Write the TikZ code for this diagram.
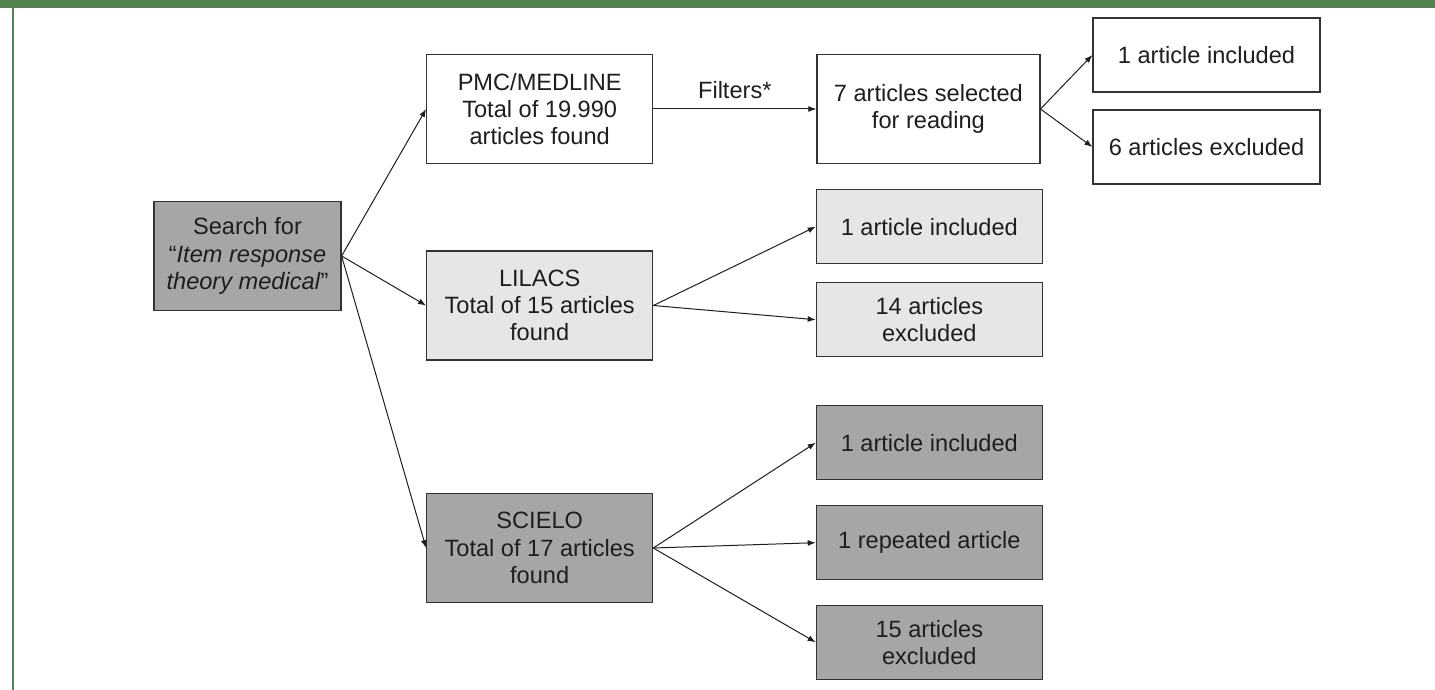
\documentclass[tikz,border=0pt]{standalone}
\usepackage{fontspec}
\setmainfont{Liberation Sans}
\usetikzlibrary{arrows.meta,positioning}
\definecolor{band}{HTML}{538150}
\definecolor{shade}{HTML}{A6A6A6}
\definecolor{pale}{HTML}{E6E6E6}
\definecolor{edge}{HTML}{333333}
\definecolor{ink}{HTML}{1E1E1E}

\begin{document}
\begin{tikzpicture}[x=0.5pt,y=-0.5pt,
 box/.style={draw=edge,line width=0.6pt,fill=white,align=center,inner sep=0pt,
 text=ink,font=\fontsize{11.8}{13.6}\selectfont},
 big/.style={box,minimum width=113pt,minimum height=54.5pt},
 small/.style={box,minimum width=113pt,minimum height=37pt},
 arr/.style={-{Latex[length=4pt,width=3pt]},line width=0.5pt,draw=ink}]
 \useasboundingbox (0,0) rectangle (1435,690);
 % frame of the page
 \fill[band] (0,0) rectangle (1435,8);
 \fill[band] (11.5,8) rectangle (14,690);
 % search and databases
 \node[big,fill=shade,minimum width=93.5pt] (search) at (247.5,256)
 {Search for\\“\textit{Item response}\\\textit{theory medical}”};
 \node[big] (pmc) at (539.7,109) {PMC/MEDLINE\\Total of 19.990\\articles found};
 \node[big,fill=pale] (lilacs) at (539.7,305.5) {LILACS\\Total of 15 articles\\found};
 \node[big,fill=shade] (scielo) at (539.7,548) {SCIELO\\Total of 17 articles\\found};
 % results
 \node[big,minimum width=111.5pt,right=81.5pt of pmc] (reading) {7 articles selected\\for reading};
 \node[small,minimum width=113.5pt] (pmcin) at (1206.5,55) {1 article included};
 \node[small,minimum width=113.5pt] (pmcex) at (1206.5,147) {6 articles excluded};
 \node[small,fill=pale] (lilin) at (929.3,226.7) {1 article included};
 \node[small,fill=pale] (lilex) at (929.3,319.7) {14 articles\\excluded};
 \node[small,fill=shade] (sciin) at (929.3,442.7) {1 article included};
 \node[small,fill=shade] (scirep) at (929.3,542.7) {1 repeated article};
 \node[small,fill=shade] (sciex) at (929.3,642.3) {15 articles\\excluded};
 % connectors
 \foreach \dest in {pmc,lilacs,scielo}
 \draw[arr] (search.east) -- (\dest.west);
 \draw[arr] (pmc) -- node[above=5pt,inner sep=0pt,text=ink,font=\fontsize{11.8}{13.6}\selectfont] (filt) {Filters*} (reading);
 \foreach \dest in {pmcin,pmcex}
 \draw[arr] (reading.east) -- (\dest.west);
 \foreach \dest in {lilin,lilex}
 \draw[arr] (lilacs.east) -- (\dest.west);
 \foreach \dest in {sciin,scirep,sciex}
 \draw[arr] (scielo.east) -- (\dest.west);
\end{tikzpicture}
\end{document}
